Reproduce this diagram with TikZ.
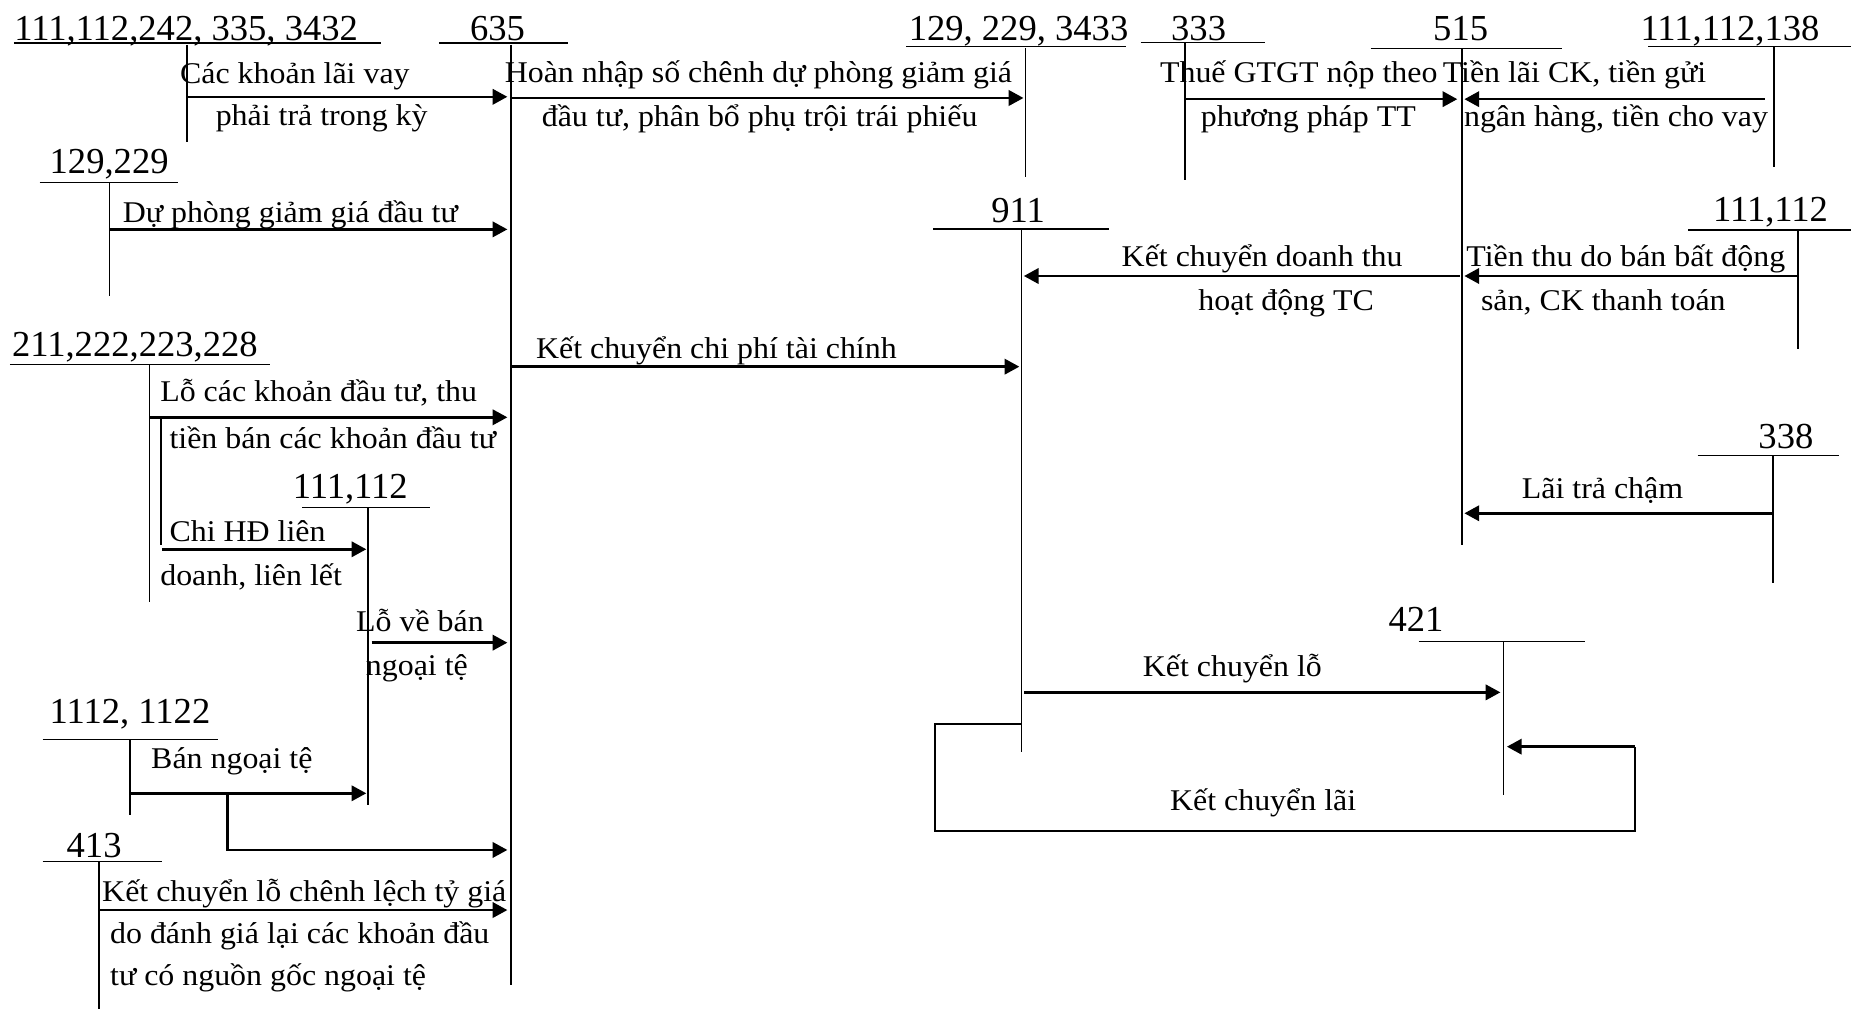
\documentclass[tikz,border=0pt]{standalone}
\usepackage{fontspec}
\setmainfont{Liberation Serif}
\newfontfamily\lblfam[FakeStretch=1.06]{Liberation Serif}
\usetikzlibrary{arrows.meta}
\newcommand\hdrfont{\fontsize{31}{36}\selectfont}
\newcommand\lblfont{\lblfam\fontsize{25.5}{30}\selectfont}
\tikzset{
  acct/.style={font=\hdrfont, inner sep=0pt, anchor=base west},
  lbl/.style={font=\lblfont, inner sep=0pt, anchor=base west},
  tline/.style={line width=1.5pt},
  uline/.style={line width=1.2pt},
  arr/.style={line width=2.2pt, -{Triangle[length=12.5pt,width=13pt]}},
  loopline/.style={line width=1.8pt},
}
\begin{document}
\begin{tikzpicture}[x=1pt,y=-1pt]
\useasboundingbox[fill=white] (0,0) rectangle (1568,855);

% ---------- account headers ----------
\node[acct] (h1) at (12,33.9) {111,112,242, 335, 3432};
\node[acct] (h2) at (398,33.9) {635};
\node[acct] (h3) at (769.6,33.9) {129, 229, 3433};
\node[acct] (h4) at (991.9,33.9) {333};
\node[acct] (h5) at (1213.9,33.9) {515};
\node[acct] (h6) at (1389.5,33.9) {111,112,138};
\node[acct] (h7) at (41.9,146.8) {129,229};
\node[acct] (h8) at (839.5,188.6) {911};
\node[acct] (h9) at (1451,187.8) {111,112};
\node[acct] (h10) at (10,302.1) {211,222,223,228};
\node[acct] (h11) at (247.9,422.2) {111,112};
\node[acct] (h12) at (41.9,612.7) {1112, 1122};
\node[acct] (h13) at (56.3,726.3) {413};
\node[acct] (h14) at (1489.4,379.8) {338};
\node[acct] (h15) at (1176,535.1) {421};

% ---------- underlines ----------
\coordinate (u1a) at (11.7,36.5);   \coordinate (u1b) at (323,36.5);
\coordinate (u2a) at (371.8,36.5);  \coordinate (u2b) at (481,36.5);
\coordinate (u3a) at (767.6,39.5);  \coordinate (u3b) at (954.2,39.5);
\coordinate (u4a) at (966.3,36);    \coordinate (u4b) at (1071.8,36);
\coordinate (u5a) at (1161,40.9);   \coordinate (u5b) at (1323.4,40.9);
\coordinate (u6a) at (1396.4,39.5); \coordinate (u6b) at (1568,39.5);
\coordinate (u7a) at (33.5,154.4);  \coordinate (u7b) at (150.7,154.4);
\coordinate (u8a) at (790.5,194);   \coordinate (u8b) at (939.8,194);
\coordinate (u9a) at (1430,194.8);  \coordinate (u9b) at (1568,194.8);
\coordinate (u10a) at (8.4,308.6);  \coordinate (u10b) at (228.7,308.6);
\coordinate (u11a) at (256.2,429.8);\coordinate (u11b) at (364.4,429.8);
\coordinate (u12a) at (36.2,626.3); \coordinate (u12b) at (184.9,626.3);
\coordinate (u13a) at (36.2,729.9); \coordinate (u13b) at (137.3,729.9);
\coordinate (u14a) at (1438,386);   \coordinate (u14b) at (1557.7,386);
\coordinate (u15a) at (1201.7,543.6);\coordinate (u15b) at (1342.9,543.6);
\foreach \i in {1,...,15} \draw[uline] (u\i a) -- (u\i b);

% ---------- T-account verticals ----------
\coordinate (v1a) at (158.4,38);   \coordinate (v1b) at (158.4,120);
\coordinate (v2a) at (433,38);     \coordinate (v2b) at (433,834.4);
\coordinate (v3a) at (868.7,41);   \coordinate (v3b) at (868.7,149.7);
\coordinate (v4a) at (1004,36);    \coordinate (v4b) at (1004,152.5);
\coordinate (v5a) at (1238.5,41);  \coordinate (v5b) at (1238.5,461.7);
\coordinate (v6a) at (1503,40);    \coordinate (v6b) at (1503,141.2);
\coordinate (v7a) at (92.8,154.4); \coordinate (v7b) at (92.8,250.7);
\coordinate (v8a) at (865.3,194);  \coordinate (v8b) at (865.3,636.7);
\coordinate (v9a) at (1523,194.8); \coordinate (v9b) at (1523,295.9);
\coordinate (v10a) at (126.6,308.6);\coordinate (v10b) at (126.6,509.7);
\coordinate (v11a) at (311.5,429.8);\coordinate (v11b) at (311.5,681.9);
\coordinate (v12a) at (109.9,626.3);\coordinate (v12b) at (109.9,690.4);
\coordinate (v13a) at (83.7,729.9); \coordinate (v13b) at (83.7,855);
\coordinate (v14a) at (1502.2,386); \coordinate (v14b) at (1502.2,494.1);
\coordinate (v15a) at (1273.6,543.6);\coordinate (v15b) at (1273.6,673.4);
\foreach \i in {1,...,15} \draw[tline] (v\i a) -- (v\i b);
% inner branch of 211,222,223,228
\coordinate (w1a) at (136.7,354.4); \coordinate (w1b) at (136.7,462);
\draw[tline] (w1a) -- (w1b);

% ---------- arrows ----------
\coordinate (a1s) at (158.4,82);   \coordinate (a1e) at (429.8,82);
\coordinate (a2s) at (433,83);     \coordinate (a2e) at (867,83);
\coordinate (a3s) at (1004,84);    \coordinate (a3e) at (1234.5,84);
\coordinate (a4s) at (1495,84);    \coordinate (a4e) at (1240.5,84);
\coordinate (a5s) at (92.8,194.3); \coordinate (a5e) at (429.8,194.3);
\coordinate (a6s) at (1236.5,233.8);\coordinate (a6e) at (867.3,233.8);
\coordinate (a7s) at (1523,233.8); \coordinate (a7e) at (1240.5,233.8);
\coordinate (a8s) at (433,310.6);  \coordinate (a8e) at (863.5,310.6);
\coordinate (a9s) at (126.6,353.5);\coordinate (a9e) at (429.8,353.5);
\coordinate (a10s) at (137.3,465.3);\coordinate (a10e) at (310.3,465.3);
\coordinate (a11s) at (314.9,544.4);\coordinate (a11e) at (429.8,544.4);
\coordinate (a12s) at (109.9,672); \coordinate (a12e) at (310.3,672);
\coordinate (a13s) at (192.6,672); \coordinate (a13m) at (192.6,720); \coordinate (a13e) at (429.8,720);
\coordinate (a14s) at (83.7,770.9);\coordinate (a14e) at (429.8,770.9);
\coordinate (a15s) at (1502.2,434.8);\coordinate (a15e) at (1240.5,434.8);
\coordinate (a16s) at (867.7,586.5);\coordinate (a16e) at (1271,586.5);
\coordinate (l1) at (865.3,613.6); \coordinate (l2) at (791.7,613.6);
\coordinate (l3) at (791.7,704);   \coordinate (l4) at (1385,704);
\coordinate (l5) at (1385,632.5);  \coordinate (l6) at (1276.5,632.5);

\draw[arr] (a1s) -- (a1e);
\draw[arr] (a2s) -- (a2e);
\draw[arr] (a3s) -- (a3e);
\draw[arr] (a4s) -- (a4e);
\draw[arr] (a5s) -- (a5e);
\draw[arr] (a6s) -- (a6e);
\draw[arr] (a7s) -- (a7e);
\draw[arr] (a8s) -- (a8e);
\draw[arr] (a9s) -- (a9e);
\draw[arr] (a10s) -- (a10e);
\draw[arr] (a11s) -- (a11e);
\draw[arr] (a12s) -- (a12e);
\draw[arr] (a13s) -- (a13m) -- (a13e);
\draw[arr] (a14s) -- (a14e);
\draw[arr] (a15s) -- (a15e);
\draw[arr] (a16s) -- (a16e);
\draw[loopline] (l1) -- (l2) -- (l3) -- (l4) -- (l5);
\draw[arr] (l5) -- (l6);

% ---------- labels ----------
\node[lbl] (t1) at (152.4,70.6) {Các khoản lãi vay};
\node[lbl] (t2) at (182.6,105.9) {phải trả trong kỳ};
\node[lbl] (t3) at (427.4,70) {Hoàn nhập số chênh dự phòng giảm giá};
\node[lbl] (t4) at (458.8,107.3) {đầu tư, phân bổ phụ trội trái phiếu};
\node[lbl] (t5) at (982.5,70) {Thuế GTGT nộp theo};
\node[lbl] (t6) at (1017,107.3) {phương pháp TT};
\node[lbl] (t7) at (1222,70) {Tiền lãi CK, tiền gửi};
\node[lbl] (t8) at (1240,107.3) {ngân hàng, tiền cho vay};
\node[lbl] (t9) at (103.8,188.6) {Dự phòng giảm giá đầu tư};
\node[lbl] (t10) at (950,225.9) {Kết chuyển doanh thu};
\node[lbl] (t11) at (1015,262.6) {hoạt động TC};
\node[lbl] (t12) at (1242,225.9) {Tiền thu do bán bất động};
\node[lbl] (t13) at (1254.4,262.6) {sản, CK thanh toán};
\node[lbl] (t14) at (453.9,303.5) {Kết chuyển chi phí tài chính};
\node[lbl] (t15) at (135.6,340.3) {Lỗ các khoản đầu tư, thu};
\node[lbl] (t16) at (143.4,379.8) {tiền bán các khoản đầu tư};
\node[lbl] (t17) at (143.4,458.8) {Chi HĐ liên};
\node[lbl] (t18) at (135.6,495.6) {doanh, liên lết};
\node[lbl] (t19) at (301.5,535.1) {Lỗ về bán};
\node[lbl] (t20) at (309.8,571.8) {ngoại tệ};
\node[lbl] (t21) at (127.9,650.8) {Bán ngoại tệ};
\node[lbl] (t22) at (86.4,763.8) {Kết chuyển lỗ chênh lệch tỷ giá};
\node[lbl] (t23) at (93.1,799.1) {do đánh giá lại các khoản đầu};
\node[lbl] (t24) at (93.1,834.4) {tư có nguồn gốc ngoại tệ};
\node[lbl] (t25) at (1289,422.2) {Lãi trả chậm};
\node[lbl] (t26) at (967.9,573.2) {Kết chuyển lỗ};
\node[lbl] (t27) at (991,686.2) {Kết chuyển lãi};
\end{tikzpicture}
\end{document}
